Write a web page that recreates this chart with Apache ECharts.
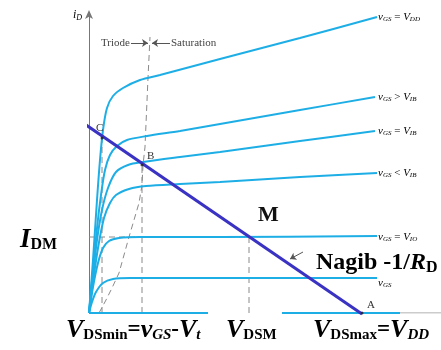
<!DOCTYPE html>
<html><head><meta charset="utf-8">
<script src="https://cdn.jsdelivr.net/npm/echarts@6/dist/echarts.min.js"></script>
<style>html,body{margin:0;padding:0;background:#fff}#c{width:441px;height:350px}</style>
</head><body><div id="c"></div>
<script>
// Output characteristics (x: vDS units, y: iD units)
const curveVDD   = [[0,0],[4,53],[8,113],[11,153],[14,183],[18,205],[24,217],[34,225],[51,233],[71,238],[131,254],[211,275],[288,296]];
const curveGtVIB = [[0,0],[4,43],[8,85],[12,118],[16,143],[21,158],[28,167],[38,173],[58,177],[91,182],[131,189],[211,203],[286,216]];
const curveEqVIB = [[0,0],[4,38],[8,73],[13,103],[19,125],[27,141],[39,148],[54,151],[91,156],[131,161],[211,172],[286,182]];
const curveLtVIB = [[0,0],[4,31],[9,65],[15,95],[21,110],[27,118],[40,124],[57,127],[91,129],[131,131],[211,136],[288,140]];
const curveVIO   = [[0,0],[4,26],[9,50],[14,65],[20,72],[30,75],[51,76],[131,76],[288,77]];
const curveLow   = [[0,0],[3,11],[7,21],[14,30],[24,34],[41,35],[288,35]];
const curveCut   = [[0,0],[119,0],'-',[193,0],[311,0]];
const satBoundary = [[10,0],[17,13],[23,25],[30,40],[35,58],[40,76],[45,93],[50,110],[53,128],[54,148],[56,166],[59,235],[61,276]];
const loadLine = [[-3,188],[273,-1]];
const pointC = [13,175], pointB = [53,148], pointM = [160,76], pointA = [273,0];
const xMax = 352, yMax = 300;

const cyan = '#1eaee6', blue = '#3a32c2', grey = '#777';
const serif = '"Liberation Serif","DejaVu Serif",serif';
function curve(d){return {type:'line',data:d,showSymbol:false,smooth:0.3,lineStyle:{color:cyan,width:2},z:3};}
function dashed(d){return {type:'line',data:d,showSymbol:false,lineStyle:{color:'#8a8a8a',width:1,type:[6,4]},z:2};}

const chart = echarts.init(document.getElementById('c'));
const small = {fontFamily:serif,fontStyle:'italic',fontSize:11,color:'#666'};
const sub = {fontFamily:serif,fontStyle:'italic',fontSize:7,color:'#666',padding:[5,0,0,0]};
function vLab(rel, rhs){return '{v|v}{s|GS}{n| '+rel+' }{v|V}{s|'+rhs+'}';}
const labRich = {v:small,s:sub,n:{fontFamily:serif,fontSize:11,color:'#666'}};

const bigI = {fontFamily:serif,fontStyle:'italic',fontWeight:'bold',fontSize:26,color:'#111'};
const bigS = {fontFamily:serif,fontWeight:'bold',fontSize:15,color:'#111',padding:[10,0,0,0]};
const bigSI = {fontFamily:serif,fontStyle:'italic',fontWeight:'bold',fontSize:15,color:'#111',padding:[10,0,0,0]};
const bigN = {fontFamily:serif,fontWeight:'bold',fontSize:23,color:'#111'};
const bigRich = {V:bigI,s:bigS,si:bigSI,n:bigN};

chart.setOption({
  animation:false,
  grid:{left:89,top:13,width:352,height:300},
  xAxis:{type:'value',min:0,max:xMax,axisLine:{show:false},axisTick:{show:false},axisLabel:{show:false},splitLine:{show:false}},
  yAxis:{type:'value',min:0,max:yMax,axisLine:{show:true,onZero:false,symbol:['none','arrow'],symbolSize:[6,9],symbolOffset:[0,3],lineStyle:{color:grey,width:1}},axisTick:{show:false},axisLabel:{show:false},splitLine:{show:false}},
  series:[
    dashed(satBoundary),
    dashed([[pointC[0],0],pointC]),
    dashed([[pointB[0],0],pointB]),
    dashed([[pointM[0],0],pointM]),
    dashed([[0,pointM[1]],pointM]),
    {type:'line',data:[[311,0],[xMax,0]],showSymbol:false,lineStyle:{color:'#999',width:1},z:2},
    curve(curveVDD),curve(curveGtVIB),curve(curveEqVIB),curve(curveLtVIB),curve(curveVIO),curve(curveLow),
    {type:'line',data:curveCut,showSymbol:false,lineStyle:{color:cyan,width:2},z:3},
    {type:'line',data:loadLine,clip:false,showSymbol:false,lineStyle:{color:blue,width:3},z:5,
      markLine:{silent:true,symbol:['none','arrow'],symbolSize:6,label:{show:false},lineStyle:{color:'#555',width:1,type:'solid'},
        data:[
          [{coord:[42,270]},{coord:[59,270]}],
          [{coord:[81,270]},{coord:[63,270]}],
          [{coord:[214,61]},{coord:[201,54]}]
        ]}},
    {type:'scatter',data:[pointC,pointB,pointA],symbolSize:3,itemStyle:{color:'#222'},z:6}
  ]
});

const g = [];
function T(x,y,text,rich,extra){g.push({type:'text',x:x,y:y,z:10,style:Object.assign({text:text,rich:rich,verticalAlign:'middle',align:'left'},extra||{})});}
T(73,15,'{i|i}{s|D}',{i:{fontFamily:serif,fontStyle:'italic',fontSize:12,color:'#555'},s:{fontFamily:serif,fontStyle:'italic',fontSize:8,color:'#555',padding:[5,0,0,0]}});
T(101,43,'Triode',{},{font:'11px '+serif,fill:'#444'});
T(171,43,'Saturation',{},{font:'11px '+serif,fill:'#444'});
T(96,128,'C',{},{font:'11px '+serif,fill:'#333'});
T(147,156,'B',{},{font:'11px '+serif,fill:'#333'});
T(367,305,'A',{},{font:'11px '+serif,fill:'#333'});
T(378,17,vLab('=','DD'),labRich);
T(378,97,vLab('>','IB'),labRich);
T(378,131,vLab('=','IB'),labRich);
T(378,173,vLab('<','IB'),labRich);
T(378,237,vLab('=','IO'),labRich);
T(378,283,'{v|v}{s|GS}',labRich);
T(258,215,'M',{},{font:'bold 22px '+serif,fill:'#111'});
T(20,240,'{V|I}{s|DM}',Object.assign({},bigRich,{V:Object.assign({},bigI,{fontSize:27}),s:Object.assign({},bigS,{fontSize:16})}));
T(312,261,'{n|Nagib -1/}{V|R}{s|D}',{V:Object.assign({},bigI,{fontSize:24}),s:Object.assign({},bigS,{fontSize:16}),n:Object.assign({},bigN,{fontSize:24})},{backgroundColor:'#fff',padding:[3,4,0,4]});
T(66,330,'{V|V}{s|DSmin}{n|=}{V|v}{si|GS}{n|-}{V|V}{si|t}',bigRich);
T(226,330,'{V|V}{s|DSM}',bigRich);
T(313,330,'{V|V}{s|DSmax}{n|=}{V|V}{si|DD}',bigRich);
chart.setOption({graphic:g});
</script></body></html>
